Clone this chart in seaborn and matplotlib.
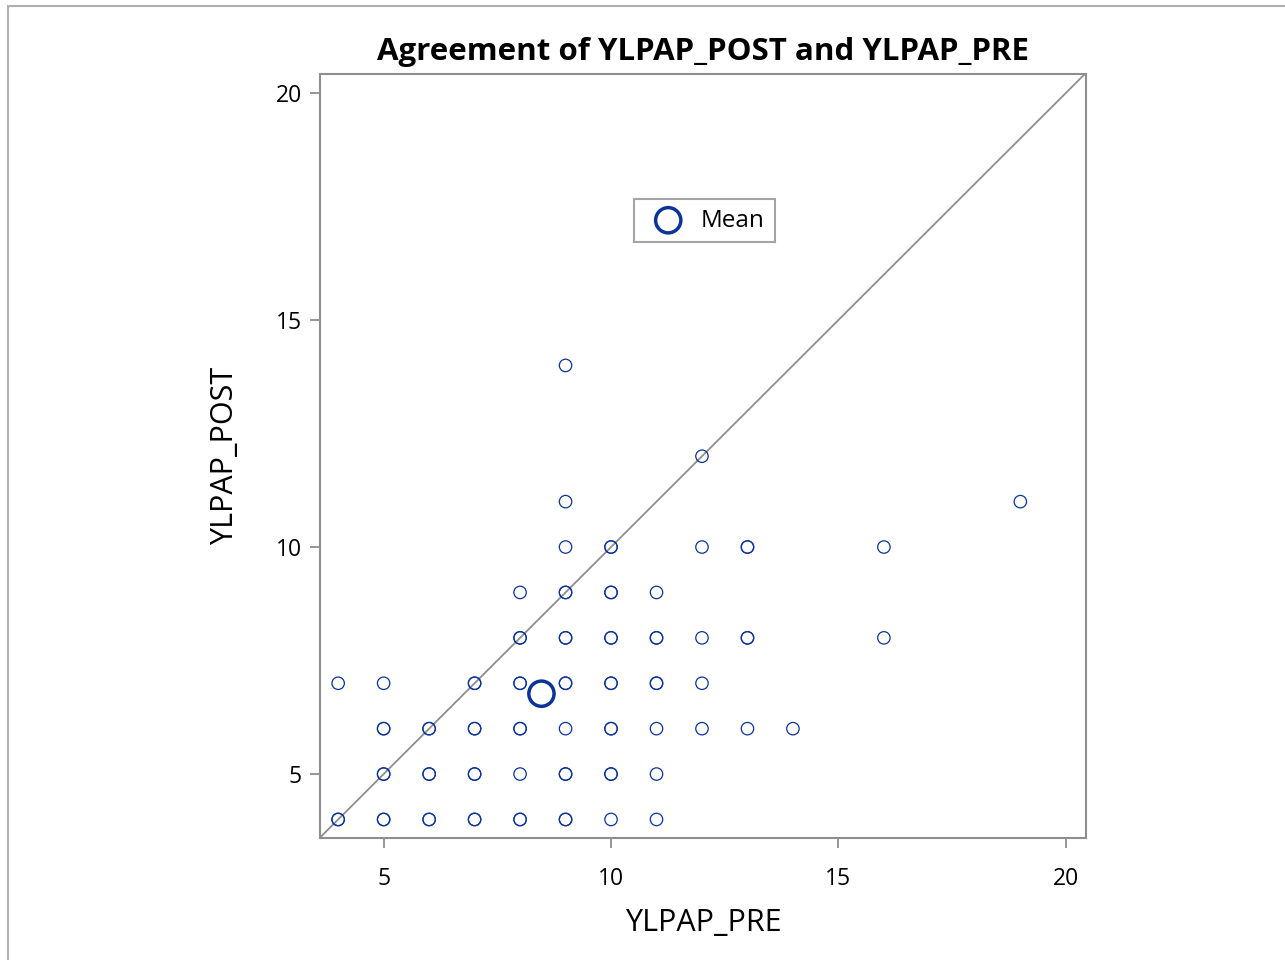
import numpy as np
import pandas as pd
import seaborn as sns
import matplotlib.pyplot as plt
from matplotlib.patches import Rectangle

# observed (pre, post) pairs and how many subjects sit on each point
pre = [4, 5, 6, 7, 8, 9, 10, 11,
       5, 6, 7, 8, 9, 10, 11,
       5, 6, 7, 8, 9, 10, 11, 12, 13, 14,
       4, 5, 7, 8, 9, 10, 11, 12,
       8, 9, 10, 11, 12, 13, 16,
       8, 9, 10, 11,
       9, 10, 12, 13, 16,
       9, 19,
       12,
       9]
post = [4, 4, 4, 4, 4, 4, 4, 4,
        5, 5, 5, 5, 5, 5, 5,
        6, 6, 6, 6, 6, 6, 6, 6, 6, 6,
        7, 7, 7, 7, 7, 7, 7, 7,
        8, 8, 8, 8, 8, 8, 8,
        9, 9, 9, 9,
        10, 10, 10, 10, 10,
        11, 11,
        12,
        14]
count = [2, 2, 2, 2, 2, 2, 1, 1,
         2, 2, 2, 1, 2, 2, 1,
         2, 2, 2, 2, 1, 2, 1, 1, 1, 1,
         1, 1, 2, 2, 2, 2, 2, 1,
         2, 2, 2, 2, 1, 2, 1,
         1, 2, 2, 1,
         1, 2, 1, 2, 1,
         1, 1,
         1,
         1]
mean_pre = 8.47
mean_post = 6.77

df = pd.DataFrame({"YLPAP_PRE": np.repeat(pre, count),
                   "YLPAP_POST": np.repeat(post, count)})

sns.set_style("white")
plt.rcParams['font.family'] = ['Open Sans', 'DejaVu Sans']
plt.rcParams['text.color'] = 'black'
plt.rcParams['axes.labelcolor'] = 'black'
plt.rcParams['xtick.color'] = 'black'
plt.rcParams['ytick.color'] = 'black'

blue = '#0b3399'
gray = '#8e8e8e'

fig = plt.figure(figsize=(12.85, 9.6), dpi=100)
ax = fig.add_axes([0.249, 0.127, 0.596, 0.796])

ax.axline((0, 0), slope=1, color=gray, lw=1.3, zorder=1)
sns.scatterplot(data=df, x="YLPAP_PRE", y="YLPAP_POST", ax=ax, marker='o',
                s=80, facecolor='none', edgecolor=blue, linewidth=0.9, zorder=2)
ax.scatter([mean_pre], [mean_post], s=330, facecolor='none', edgecolor=blue,
           linewidth=2.5, zorder=3, label='Mean')

ax.set_xlim(3.6, 20.44)
ax.set_ylim(3.59, 20.42)
ax.set_xticks([5, 10, 15, 20])
ax.set_yticks([5, 10, 15, 20])
for s in ax.spines.values():
    s.set_color(gray)
    s.set_linewidth(1.5)
ax.tick_params(axis='both', direction='out', length=7, width=1.3, color=gray,
               labelsize=16.5, left=True, bottom=True)
ax.tick_params(axis='x', pad=14)
ax.tick_params(axis='y', pad=6)

ax.set_xlabel("YLPAP_PRE", fontsize=22, labelpad=12)
ax.set_ylabel("YLPAP_POST", fontsize=22, labelpad=26)
ax.set_title("Agreement of YLPAP_POST and YLPAP_PRE", fontsize=22.5,
             fontweight='bold', pad=10)

leg = ax.legend(loc='center', bbox_to_anchor=(0.502, 0.808), fontsize=17.5,
                frameon=True, fancybox=False, edgecolor=gray, borderpad=0.4,
                handletextpad=0.35, markerscale=1.0)
leg.get_frame().set_linewidth(1.5)

fig.patches.append(Rectangle((0.006, -0.01), 1.1, 1.004, transform=fig.transFigure,
                             fill=False, edgecolor='#b0b0b0', linewidth=1.5))

fig.savefig("out.png", dpi=100)
